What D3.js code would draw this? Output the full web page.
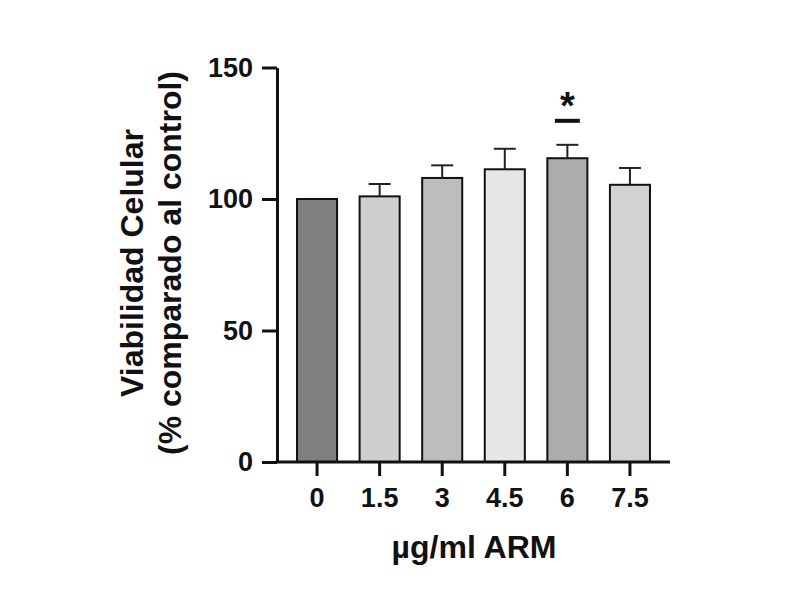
<!DOCTYPE html>
<html>
<head>
<meta charset="utf-8">
<script src="https://cdn.jsdelivr.net/npm/d3@7"></script>
<style>
  html, body { margin: 0; padding: 0; background: #ffffff; }
  svg { display: block; }
  text { font-family: "Liberation Sans", Arial, Helvetica, sans-serif; font-weight: bold; fill: #111; }
</style>
</head>
<body>
<svg id="chart" width="792" height="592"></svg>
<script>
// ---- data ----
const categories = ["0", "1.5", "3", "4.5", "6", "7.5"];
const means = [100, 101, 108, 111.3, 115.5, 105.4];
const sds = [0, 4.7, 4.8, 7.8, 5.1, 6.4];
const barColors = ["#7f7f7f", "#cfcfcf", "#bdbdbd", "#e6e6e6", "#acacac", "#d2d2d2"];
const significance = ["", "", "", "", "*", ""];
const yTicks = [0, 50, 100, 150];
const xTitle = "µg/ml ARM";
const yTitleLines = ["Viabilidad Celular", "(% comparado al control)"];

// ---- layout ----
const svg = d3.select("#chart");
const plotLeft = 277, plotRight = 670, plotTop = 67.5, plotBottom = 462;

const x = d3.scaleBand().domain(categories).range([plotLeft, plotRight]).paddingInner(0.36).paddingOuter(0.32);
const y = d3.scaleLinear().domain([0, 150]).range([plotBottom, plotTop]);

const rows = categories.map((c, i) => ({ c, m: means[i], sd: sds[i], color: barColors[i], sig: significance[i] }));

// bars
svg.append("g").selectAll("rect").data(rows).join("rect")
  .attr("x", d => x(d.c))
  .attr("y", d => y(d.m))
  .attr("width", x.bandwidth())
  .attr("height", d => y(0) - y(d.m))
  .attr("fill", d => d.color)
  .attr("stroke", "#111")
  .attr("stroke-width", 2);

// error bars (upper only)
const eg = svg.append("g").attr("stroke", "#222").attr("stroke-width", 2);
rows.filter(d => d.sd > 0).forEach(d => {
  const cx = x(d.c) + x.bandwidth() / 2;
  eg.append("line").attr("x1", cx).attr("x2", cx).attr("y1", y(d.m)).attr("y2", y(d.m + d.sd));
  eg.append("line").attr("x1", cx - 11).attr("x2", cx + 11).attr("y1", y(d.m + d.sd)).attr("y2", y(d.m + d.sd));
});

// significance markers
rows.filter(d => d.sig).forEach(d => {
  const cx = x(d.c) + x.bandwidth() / 2;
  const yTop = y(d.m + d.sd);
  svg.append("line").attr("x1", cx - 12.5).attr("x2", cx + 12.5)
    .attr("y1", yTop - 24).attr("y2", yTop - 24)
    .attr("stroke", "#111").attr("stroke-width", 4);
  svg.append("text").attr("x", cx).attr("y", yTop - 26)
    .attr("text-anchor", "middle").attr("font-size", 38).text(d.sig);
});

// axes
const yAxis = d3.axisLeft(y).tickValues(yTicks).tickSize(15).tickSizeOuter(0).tickPadding(9);
const gy = svg.append("g").attr("transform", `translate(${plotLeft},0)`).call(yAxis);
gy.selectAll("text").attr("font-size", 27).attr("fill", "#111").style("font-family", '"Liberation Sans", Arial, sans-serif');

const xAxis = d3.axisBottom(x).tickSize(14).tickSizeOuter(0).tickPadding(12);
const gx = svg.append("g").attr("transform", `translate(0,${plotBottom})`).call(xAxis);
gx.selectAll("text").attr("font-size", 27).attr("fill", "#111").style("font-family", '"Liberation Sans", Arial, sans-serif');

[gx, gy].forEach(g => {
  g.select(".domain").attr("stroke", "#111").attr("stroke-width", 3);
  g.selectAll(".tick line").attr("stroke", "#111").attr("stroke-width", 3);
});
gx.select(".domain").attr("d", `M${plotLeft - 1.5},0H${plotRight}`);

// axis titles
svg.append("text").attr("x", 474).attr("y", 558).attr("text-anchor", "middle")
  .attr("font-size", 31).attr("textLength", 165).attr("lengthAdjust", "spacingAndGlyphs").text(xTitle);

const yt = svg.append("g").attr("transform", "translate(0,263) rotate(-90)");
yt.append("text").attr("x", 0).attr("y", 143).attr("text-anchor", "middle")
  .attr("font-size", 32).text(yTitleLines[0]);
yt.append("text").attr("x", 0).attr("y", 181).attr("text-anchor", "middle")
  .attr("font-size", 32).text(yTitleLines[1]);
</script>
</body>
</html>
